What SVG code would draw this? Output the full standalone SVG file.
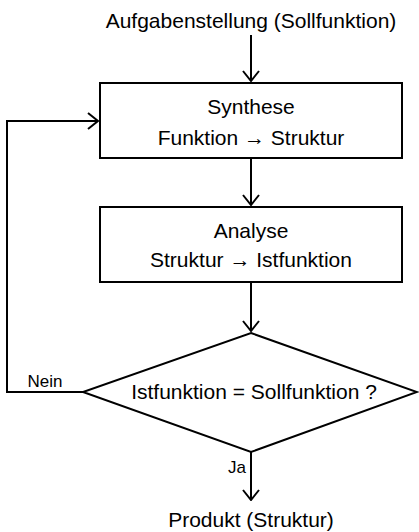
<svg xmlns="http://www.w3.org/2000/svg" width="419" height="532" viewBox="0 0 419 532">
<style>
text{font-family:"Liberation Sans",Arial,sans-serif;font-size:21px;fill:#000;text-anchor:middle}
.sm{font-size:17px}
.shape{fill:#fff;stroke:#000;stroke-width:2}
.conn{fill:none;stroke:#000;stroke-width:2}
</style>
<defs>
<marker id="arr" viewBox="0 0 12 20" refX="11" refY="10" markerWidth="12" markerHeight="20" markerUnits="userSpaceOnUse" orient="auto">
<polyline points="1,2 11,10 1,18" fill="none" stroke="#000" stroke-width="2"/>
</marker>
</defs>
<g id="start"><text x="251" y="28">Aufgabenstellung (Sollfunktion)</text></g>
<g id="synthese">
<rect class="shape" x="100" y="83" width="302" height="75"/>
<text x="251" y="114">Synthese</text>
<text x="251" y="145">Funktion → Struktur</text>
</g>
<g id="analyse">
<rect class="shape" x="100" y="207" width="302" height="75"/>
<text x="251" y="238">Analyse</text>
<text x="251" y="267">Struktur → Istfunktion</text>
</g>
<g id="entscheidung">
<polygon class="shape" points="251,333 417,392 251,452 83,392"/>
<text x="254" y="399">Istfunktion = Sollfunktion ?</text>
</g>
<g id="ende"><text x="251" y="527">Produkt (Struktur)</text></g>
<g id="connectors">
<line class="conn" x1="251" y1="35" x2="251" y2="81" marker-end="url(#arr)"/>
<line class="conn" x1="251" y1="158" x2="251" y2="205" marker-end="url(#arr)"/>
<line class="conn" x1="251" y1="282" x2="251" y2="331" marker-end="url(#arr)"/>
<polyline class="conn" points="83,392 7,392 7,121 98,121" marker-end="url(#arr)"/>
<line class="conn" x1="251" y1="452" x2="251" y2="500" marker-end="url(#arr)"/>
<text class="sm" x="45" y="387">Nein</text>
<text class="sm" x="237" y="473">Ja</text>
</g>
</svg>
